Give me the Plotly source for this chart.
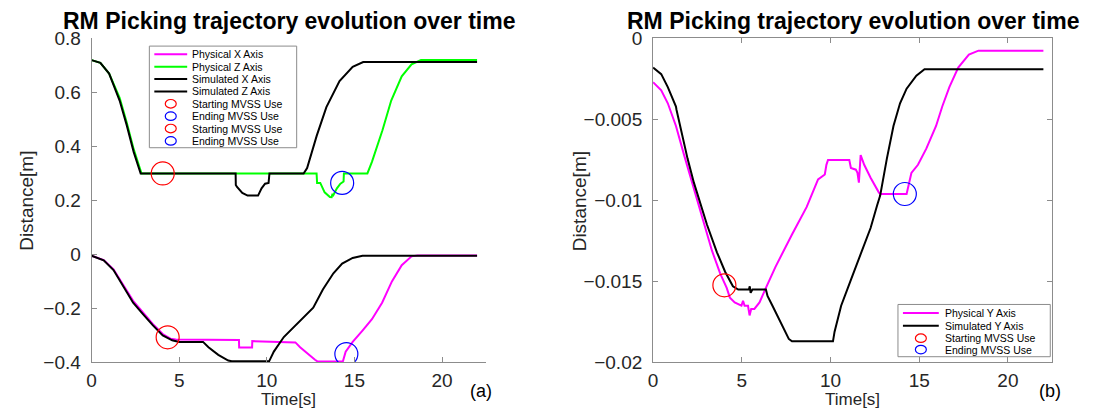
import plotly.graph_objects as go

W, H = 1111, 419

# ---------------- data: panel (a) ----------------
t_phys_x = [0, 0.69, 1.25, 1.81, 2.37, 2.93, 3.5, 4.06, 4.5, 4.8, 8.41, 8.42, 9.16, 9.17, 11.63,
            11.9, 12.28, 12.75, 12.9, 14.34, 14.5, 14.9, 15.46, 16.0, 16.58, 17.14, 17.7, 18.26, 18.6, 22.0]
phys_x = [-0.005, -0.021, -0.055, -0.112, -0.172, -0.215, -0.258, -0.295, -0.312, -0.315, -0.317, -0.345,
          -0.345, -0.321, -0.326, -0.344, -0.366, -0.39, -0.397, -0.397, -0.36, -0.324, -0.282, -0.24,
          -0.179, -0.10, -0.04, -0.007, -0.004, -0.004]

t_phys_z = [0, 0.5, 1.0, 1.3, 1.6, 2.0, 2.4, 2.85, 12.84, 12.87, 13.05, 13.3, 13.6, 13.7, 13.75, 13.8,
            14.0, 14.2, 14.38, 14.4, 15.74, 16.0, 16.6, 17.1, 17.7, 18.26, 18.8, 22.0]
phys_z = [0.72, 0.71, 0.67, 0.625, 0.58, 0.49, 0.39, 0.30, 0.30, 0.265, 0.265, 0.23, 0.213, 0.212, 0.225,
          0.22, 0.245, 0.262, 0.27, 0.30, 0.30, 0.343, 0.46, 0.57, 0.66, 0.704, 0.72, 0.72]

t_sim_x = [0, 0.69, 1.25, 1.81, 2.37, 2.93, 3.5, 4.06, 4.6, 5.0, 6.36, 6.67, 7.23, 7.8, 8.0, 10.13, 10.4,
           10.97, 11.7, 12.65, 13.2, 13.8, 14.3, 14.9, 15.46, 22.0]
sim_x = [-0.005, -0.022, -0.058, -0.118, -0.179, -0.221, -0.263, -0.300, -0.318, -0.324, -0.324, -0.344,
         -0.372, -0.393, -0.396, -0.396, -0.36, -0.306, -0.257, -0.197, -0.13, -0.07, -0.034, -0.013,
         -0.005, -0.005]

t_sim_z = [0, 0.5, 1.0, 1.3, 1.6, 2.0, 2.4, 2.8, 8.22, 8.23, 8.3, 8.6, 8.9, 9.5, 9.7, 9.9, 10.1, 10.15,
           12.1, 12.3, 12.85, 13.4, 14.15, 14.9, 15.5, 22.0]
sim_z = [0.72, 0.71, 0.67, 0.62, 0.57, 0.48, 0.38, 0.30, 0.30, 0.257, 0.25, 0.228, 0.218, 0.218, 0.245,
         0.262, 0.265, 0.30, 0.30, 0.32, 0.44, 0.546, 0.642, 0.695, 0.713, 0.713]

t_start_a = [4.06, 4.34]
v_start_a = [0.30, -0.307]
t_end_a = [14.3, 14.54]
v_end_a = [0.265, -0.369]

# ---------------- data: panel (b) ----------------
t_phys_y = [0, 0.46, 0.83, 1.29, 1.75, 2.2, 2.49, 2.86, 3.32, 3.78, 4.15, 4.33, 4.6, 4.98, 5.07, 5.16,
            5.35, 5.44, 5.53, 5.71, 6.0, 6.36, 6.9, 7.83, 8.66, 9.3, 9.68, 9.77, 9.86, 11.06, 11.15, 11.43,
            11.52, 11.6, 11.7, 11.9, 12.26, 12.72, 12.8, 14.29, 14.38, 14.56, 14.93, 15.4, 15.95, 16.3,
            16.7, 17.2, 17.8, 18.34, 22.0]
phys_y = [-0.0027, -0.0032, -0.0040, -0.0054, -0.0072, -0.0089, -0.0100, -0.0115, -0.0131, -0.0145,
          -0.0154, -0.0160, -0.0163, -0.0165, -0.0162, -0.0165, -0.0165, -0.0171, -0.0167, -0.0167,
          -0.0163, -0.0154, -0.0141, -0.0121, -0.0104, -0.0087, -0.0084, -0.0078, -0.0075, -0.0075,
          -0.0080, -0.0081, -0.0083, -0.0089, -0.0072, -0.0078, -0.0086, -0.0095, -0.0096, -0.0096,
          -0.0091, -0.0083, -0.0078, -0.0068, -0.0054, -0.0042, -0.0030, -0.0018, -0.0010, -0.00075,
          -0.00075]

t_sim_y = [0, 0.46, 0.83, 1.29, 1.32, 1.57, 1.94, 2.3, 2.6, 3.04, 3.6, 4.06, 4.5, 4.8, 5.4, 5.45, 5.5,
           5.6, 6.36, 6.45, 6.73, 7.1, 7.65, 7.83, 10.14, 10.23, 10.6, 11.15, 11.7, 12.26, 12.63, 12.8,
           13.18, 13.55, 13.92, 14.29, 14.84, 15.3, 22.0]
sim_y = [-0.0018, -0.0022, -0.0030, -0.0042, -0.0044, -0.0056, -0.0074, -0.0089, -0.0100, -0.0115,
         -0.0132, -0.0144, -0.0153, -0.0155, -0.0155, -0.0153, -0.0157, -0.0155, -0.0155, -0.0159,
         -0.0165, -0.0173, -0.01855, -0.0187, -0.0187, -0.0181, -0.0165, -0.0149, -0.0133, -0.0117,
         -0.0103, -0.0097, -0.0074, -0.0054, -0.0040, -0.0031, -0.0023, -0.0019, -0.0019]

t_start_b = [4.02]
v_start_b = [-0.01524]
t_end_b = [14.19]
v_end_b = [-0.0096]

# ---------------- ticks / labels ----------------
x_ticks = [0, 5, 10, 15, 20]
x_ticktext = ["0", "5", "10", "15", "20"]
ya_ticks = [-0.4, -0.2, 0, 0.2, 0.4, 0.6, 0.8]
ya_ticktext = ["\u22120.4", "\u22120.2", "0", "0.2", "0.4", "0.6", "0.8"]
yb_ticks = [-0.02, -0.015, -0.01, -0.005, 0]
yb_ticktext = ["\u22120.02", "\u22120.015", "\u22120.01", "\u22120.005", "0"]

legend_a_labels = ["Physical X Axis", "Physical Z Axis", "Simulated X Axis", "Simulated Z Axis",
                   "Starting MVSS Use", "Ending MVSS Use", "Starting MVSS Use", "Ending MVSS Use"]
legend_b_labels = ["Physical Y Axis", "Simulated Y Axis", "Starting MVSS Use", "Ending MVSS Use"]

title_text = "RM Picking trajectory evolution over time"

MAG, GRN, BLK, RED, BLU = "#ff00ff", "#00ff00", "#000000", "#ff0000", "#0000ff"
FONT = "Liberation Sans, Arial, sans-serif"
AXC = "#8c8c8c"
TXC = "#262626"


def px(p):
    return p / W


def py(p):
    return 1 - p / H


fig = go.Figure()


def line(t, v, color, xa, ya):
    fig.add_trace(go.Scatter(x=t, y=v, mode="lines", line=dict(color=color, width=2),
                             xaxis=xa, yaxis=ya, showlegend=False, hoverinfo="skip"))


def circ(t, v, color, xa, ya):
    fig.add_trace(go.Scatter(x=t, y=v, mode="markers",
                             marker=dict(symbol="circle-open", size=23, color=color, line=dict(width=1.2)),
                             xaxis=xa, yaxis=ya, showlegend=False, hoverinfo="skip"))


line(t_phys_x, phys_x, MAG, "x", "y")
line(t_phys_z, phys_z, GRN, "x", "y")
line(t_sim_x, sim_x, BLK, "x", "y")
line(t_sim_z, sim_z, BLK, "x", "y")
circ(t_start_a, v_start_a, RED, "x", "y")
circ(t_end_a, v_end_a, BLU, "x", "y")

line(t_phys_y, phys_y, MAG, "x2", "y2")
line(t_sim_y, sim_y, BLK, "x2", "y2")
circ(t_start_b, v_start_b, RED, "x2", "y2")
circ(t_end_b, v_end_b, BLU, "x2", "y2")

# axes geometry (pixels)
AX_L = (87, 483)
AX_R = (651, 1052)
AX_TOP, AX_BOT = 30, 371

common_x = dict(range=[0, 22.5], tickvals=x_ticks, ticktext=x_ticktext, showgrid=False, zeroline=False,
                showline=True, linecolor=AXC, linewidth=1, ticks="inside", ticklen=5, tickcolor=AXC,
                tickfont=dict(family=FONT, size=19, color=TXC), ticklabelstandoff=1)
common_y = dict(showgrid=False, zeroline=False, showline=True, linecolor=AXC, linewidth=1,
                ticks="inside", ticklen=5, tickcolor=AXC,
                tickfont=dict(family=FONT, size=19, color=TXC), ticklabelstandoff=6)

fig.update_layout(
    width=W, height=H, margin=dict(l=0, r=0, t=0, b=0),
    paper_bgcolor="white", plot_bgcolor="white", showlegend=False,
    xaxis=dict(domain=[px(AX_L[0]), px(AX_L[1])], anchor="y", **common_x),
    yaxis=dict(domain=[py(AX_BOT), py(AX_TOP)], anchor="x", range=[-0.4, 0.8],
               tickvals=ya_ticks, ticktext=ya_ticktext, **common_y),
    xaxis2=dict(domain=[px(AX_R[0]), px(AX_R[1])], anchor="y2", mirror="ticks", **common_x),
    yaxis2=dict(domain=[py(AX_BOT), py(AX_TOP)], anchor="x2", range=[-0.02, 0],
                tickvals=yb_ticks, ticktext=yb_ticktext, mirror="ticks", **common_y),
)

ann = []
shapes = []

for (a0, a1), lab, lab_x, ylab_x in [(AX_L, "(a)", 478, 22), (AX_R, "(b)", 1050, 578)]:
    cx = (a0 + a1) / 2
    ann.append(dict(text="<b>" + title_text + "</b>", x=px(cx), y=py(12), xref="paper", yref="paper",
                    xanchor="center", yanchor="middle", showarrow=False,
                    font=dict(family=FONT, size=23, color="black")))
    ann.append(dict(text="Time[s]", x=px(cx), y=py(410.5), xref="paper", yref="paper",
                    xanchor="center", yanchor="middle", showarrow=False,
                    font=dict(family=FONT, size=17, color=TXC)))
    ann.append(dict(text=lab, x=px(lab_x), y=py(401), xref="paper", yref="paper",
                    xanchor="center", yanchor="middle", showarrow=False,
                    font=dict(family=FONT, size=18, color="black")))
    ann.append(dict(text="Distance[m]", x=px(ylab_x), y=py(201),
                    xref="paper", yref="paper", xanchor="center", yanchor="middle",
                    textangle=-90, showarrow=False, font=dict(family=FONT, size=19, color=TXC)))


def legend_box(x0, x1, y0, y1, rows, kinds, labels, line_x0, line_x1, text_x):
    shapes.append(dict(type="rect", xref="paper", yref="paper", x0=px(x0), x1=px(x1),
                       y0=py(y1), y1=py(y0), line=dict(color=AXC, width=1), fillcolor="white"))
    for ry, (kind, col), lab in zip(rows, kinds, labels):
        if kind == "line":
            shapes.append(dict(type="line", xref="paper", yref="paper", x0=px(line_x0), x1=px(line_x1),
                               y0=py(ry), y1=py(ry), line=dict(color=col, width=2)))
        else:
            cx = (line_x0 + line_x1) / 2
            shapes.append(dict(type="circle", xref="paper", yref="paper", x0=px(cx - 5.5), x1=px(cx + 5.5),
                               y0=py(ry + 4.5), y1=py(ry - 4.5), line=dict(color=col, width=1.2)))
        ann.append(dict(text=lab, x=px(text_x), y=py(ry), xref="paper", yref="paper",
                        xanchor="left", yanchor="middle", showarrow=False,
                        font=dict(family=FONT, size=10.5, color="black")))


rows_a = [46.6 + 13.03 * i for i in range(8)]
legend_box(145, 293, 38, 145, rows_a,
           [("line", MAG), ("line", GRN), ("line", BLK), ("line", BLK),
            ("c", RED), ("c", BLU), ("c", RED), ("c", BLU)],
           legend_a_labels, 150, 183, 186)
rows_b = [319, 332.5, 345.5, 357.5]
legend_box(897, 1050, 310, 365, rows_b,
           [("line", MAG), ("line", BLK), ("c", RED), ("c", BLU)],
           legend_b_labels, 902, 938, 942)

fig.update_layout(annotations=ann, shapes=shapes)
fig.write_html("out.html")
